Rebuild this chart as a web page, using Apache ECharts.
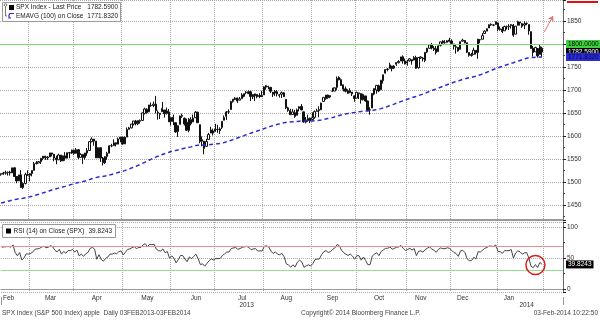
<!DOCTYPE html>
<html>
<head>
<meta charset="utf-8">
<script src="https://cdn.jsdelivr.net/npm/echarts@6/dist/echarts.min.js"></script>
<style>
  html, body { margin: 0; padding: 0; background: #fff; }
  #chart { width: 600px; height: 322px; }
</style>
</head>
<body>
<div id="chart"></div>
<script>
// SPX daily sessions, one array per month: [day, open, high, low, close]
const feb2013 = [
  [11,1517.9,1518.3,1513.6,1517.0],[12,1517.0,1522.3,1515.6,1519.4],[13,1519.4,1524.7,1515.9,1520.3],
  [14,1520.3,1523.1,1514.0,1521.4],[15,1521.4,1524.2,1514.1,1519.8],[19,1519.8,1530.9,1519.8,1530.9],
  [20,1530.9,1530.9,1511.4,1512.0],[21,1512.0,1512.0,1497.3,1502.4],[22,1502.4,1515.6,1502.4,1515.6],
  [25,1515.6,1525.8,1487.9,1487.9],[26,1487.9,1498.9,1485.0,1496.9],[27,1496.9,1520.1,1494.9,1516.0],
  [28,1516.0,1525.3,1514.5,1514.7]
];
const mar2013 = [
  [1,1514.7,1519.0,1501.5,1518.2],[4,1518.2,1525.3,1512.3,1525.2],[5,1525.2,1543.5,1525.2,1539.8],
  [6,1539.8,1545.3,1538.1,1541.5],[7,1541.5,1545.8,1541.5,1544.3],[8,1544.3,1552.5,1539.2,1551.2],
  [11,1551.2,1556.3,1547.4,1556.2],[12,1556.2,1556.8,1548.2,1552.5],[13,1552.5,1556.4,1548.2,1554.5],
  [14,1554.5,1563.3,1554.5,1563.2],[15,1563.2,1563.6,1555.7,1560.7],[18,1560.7,1560.7,1545.1,1552.1],
  [19,1552.1,1557.3,1538.6,1548.3],[20,1548.3,1561.6,1548.3,1558.7],[21,1558.7,1558.7,1543.6,1545.8],
  [22,1545.8,1557.7,1545.8,1556.9],[25,1556.9,1564.9,1546.2,1551.7],[26,1551.7,1563.9,1551.7,1563.8],
  [27,1563.8,1564.1,1551.5,1562.9],[28,1562.9,1570.3,1561.1,1569.2]
];
const apr2013 = [
  [1,1569.2,1570.6,1558.5,1562.2],[2,1562.2,1573.7,1562.2,1570.3],[3,1570.3,1571.5,1549.8,1553.7],
  [4,1553.7,1562.6,1552.5,1560.0],[5,1560.0,1560.0,1539.5,1553.3],[8,1553.3,1563.1,1548.6,1563.1],
  [9,1563.1,1573.9,1557.0,1568.6],[10,1568.6,1589.1,1568.6,1587.7],[11,1587.7,1597.4,1586.2,1593.4],
  [12,1593.3,1593.3,1579.0,1588.9],[15,1588.9,1588.9,1552.3,1552.4],[16,1552.4,1575.4,1552.4,1574.6],
  [17,1574.6,1574.6,1543.7,1552.0],[18,1552.0,1554.4,1536.0,1541.6],[19,1541.6,1555.9,1539.4,1555.3],
  [22,1555.3,1565.6,1548.2,1562.5],[23,1562.5,1579.6,1562.5,1578.8],[24,1578.8,1583.0,1575.8,1578.8],
  [25,1578.8,1592.6,1578.8,1585.2],[26,1585.2,1585.8,1577.6,1582.2],[29,1582.3,1596.7,1582.3,1593.6],
  [30,1593.6,1597.6,1586.5,1597.6]
];
const may2013 = [
  [1,1597.6,1597.6,1581.3,1582.7],[2,1582.8,1598.6,1582.8,1597.6],[3,1597.6,1618.5,1597.6,1614.4],
  [6,1614.4,1619.8,1614.2,1617.5],[7,1617.6,1626.0,1616.6,1626.0],[8,1626.0,1633.0,1622.7,1632.7],
  [9,1632.7,1635.0,1623.1,1626.7],[10,1626.7,1633.7,1623.7,1633.7],[13,1632.1,1636.0,1626.7,1633.8],
  [14,1633.8,1651.1,1633.8,1650.3],[15,1649.1,1661.5,1646.7,1658.8],[16,1658.1,1660.5,1648.6,1650.5],
  [17,1652.5,1667.5,1652.5,1667.5],[20,1665.7,1672.8,1663.5,1666.3],[21,1666.2,1674.9,1662.7,1669.2],
  [22,1669.4,1687.2,1648.9,1655.4],[23,1651.6,1655.5,1635.5,1650.5],[24,1646.7,1649.8,1636.9,1649.6],
  [28,1652.6,1674.2,1652.6,1660.1],[29,1656.6,1656.6,1640.1,1648.4],[30,1649.1,1661.9,1646.7,1654.4],
  [31,1652.1,1658.9,1630.7,1630.7]
];
const jun2013 = [
  [3,1631.7,1640.4,1622.7,1640.4],[4,1640.7,1646.5,1623.6,1631.4],[5,1629.1,1629.3,1607.1,1608.9],
  [6,1609.9,1622.6,1598.2,1622.6],[7,1625.3,1644.4,1625.3,1643.4],[10,1644.7,1648.7,1639.3,1642.8],
  [11,1638.6,1640.1,1622.9,1626.1],[12,1629.9,1637.7,1610.9,1612.5],[13,1612.2,1639.3,1608.1,1636.4],
  [14,1635.5,1640.8,1623.0,1626.7],[17,1630.6,1646.5,1630.3,1639.0],[18,1639.8,1654.2,1639.8,1651.8],
  [19,1651.8,1652.5,1628.9,1628.9],[20,1624.6,1624.6,1584.3,1588.2],[21,1588.6,1599.2,1577.7,1592.4],
  [24,1588.8,1588.8,1560.3,1573.1],[25,1577.5,1593.8,1577.1,1588.0],[26,1592.3,1606.8,1592.3,1603.3],
  [27,1606.4,1620.1,1606.4,1613.2],[28,1611.1,1615.9,1601.1,1606.3]
];
const jul2013 = [
  [1,1609.8,1626.6,1609.8,1615.0],[2,1614.3,1624.3,1606.8,1614.1],[3,1611.5,1618.9,1604.6,1615.4],
  [5,1618.7,1632.1,1615.1,1631.9],[8,1634.2,1644.7,1634.2,1640.5],[9,1642.9,1654.2,1634.7,1652.3],
  [10,1652.3,1657.9,1647.7,1652.6],[11,1657.4,1676.6,1657.4,1675.0],[12,1675.3,1680.2,1672.3,1680.2],
  [15,1679.6,1684.5,1677.9,1682.5],[16,1682.7,1683.7,1671.8,1676.3],[17,1677.9,1684.8,1677.9,1680.9],
  [18,1681.1,1693.1,1681.1,1689.4],[19,1686.2,1692.1,1684.1,1692.1],[22,1694.4,1697.6,1690.7,1695.5],
  [23,1696.1,1698.8,1691.1,1692.4],[24,1696.1,1698.4,1676.0,1685.9],[25,1685.2,1690.9,1680.2,1690.3],
  [26,1687.3,1691.9,1676.0,1691.7],[29,1690.3,1690.9,1681.9,1685.3],[30,1687.9,1693.2,1682.4,1686.0],
  [31,1687.8,1698.4,1684.9,1685.7]
];
const aug2013 = [
  [1,1689.4,1707.9,1689.4,1706.9],[2,1706.1,1709.7,1700.7,1709.7],[5,1708.0,1709.2,1701.6,1707.1],
  [6,1705.8,1705.8,1693.3,1697.4],[7,1695.3,1695.3,1684.9,1690.9],[8,1693.4,1700.2,1687.1,1697.5],
  [9,1696.1,1699.4,1686.0,1691.4],[12,1688.4,1691.5,1683.4,1689.5],[13,1690.7,1696.8,1682.6,1694.2],
  [14,1693.9,1695.5,1684.9,1685.4],[15,1679.6,1679.6,1658.6,1661.3],[16,1661.2,1663.6,1652.6,1655.8],
  [19,1655.3,1659.2,1646.1,1646.1],[20,1646.8,1658.9,1646.8,1652.4],[21,1650.7,1656.9,1639.4,1642.8],
  [22,1645.0,1659.6,1645.0,1657.0],[23,1659.9,1664.9,1653.6,1663.5],[26,1664.3,1669.5,1656.0,1656.8],
  [27,1652.5,1652.5,1629.1,1630.5],[28,1630.3,1641.2,1627.5,1635.0],[29,1633.5,1646.4,1630.9,1638.2],
  [30,1638.9,1640.1,1628.0,1633.0]
];
const sep2013 = [
  [3,1635.9,1651.4,1633.4,1639.8],[4,1640.7,1655.7,1637.4,1653.1],[5,1653.3,1659.2,1653.1,1655.1],
  [6,1657.4,1664.8,1640.6,1655.2],[9,1656.9,1672.4,1656.9,1671.7],[10,1675.1,1684.1,1675.1,1684.0],
  [11,1681.0,1689.1,1678.7,1689.1],[12,1689.2,1689.9,1681.0,1683.4],[13,1685.0,1688.7,1682.2,1688.0],
  [16,1697.7,1704.9,1696.0,1697.6],[17,1697.7,1705.5,1697.7,1704.8],[18,1705.7,1729.4,1700.2,1725.5],
  [19,1727.3,1729.9,1721.0,1722.3],[20,1722.4,1725.2,1708.9,1709.9],[23,1711.4,1711.4,1697.1,1701.8],
  [24,1702.6,1707.6,1694.9,1697.4],[25,1698.0,1701.7,1691.9,1692.8],[26,1694.1,1703.9,1693.1,1698.7],
  [27,1695.5,1695.5,1687.1,1691.8],[30,1687.3,1687.3,1674.4,1681.6]
];
const oct2013 = [
  [1,1682.4,1696.6,1682.1,1695.0],[2,1691.9,1693.9,1680.3,1693.9],[3,1692.4,1692.4,1670.4,1678.7],
  [4,1678.8,1691.9,1677.3,1690.5],[7,1687.2,1687.2,1674.7,1676.1],[8,1676.2,1676.8,1655.0,1655.5],
  [9,1656.9,1662.4,1646.5,1656.4],[10,1660.9,1692.6,1660.9,1692.6],[11,1691.1,1703.4,1688.5,1703.2],
  [14,1699.9,1711.0,1692.1,1710.1],[15,1709.2,1711.6,1695.5,1698.1],[16,1700.5,1721.8,1700.5,1721.5],
  [17,1720.2,1733.4,1714.1,1733.2],[18,1736.7,1745.3,1735.7,1744.5],[21,1745.2,1747.8,1740.7,1744.7],
  [22,1746.5,1759.3,1746.5,1754.7],[23,1752.3,1752.3,1740.5,1746.4],[24,1747.5,1753.7,1745.5,1752.1],
  [25,1756.0,1759.8,1752.5,1759.8],[28,1759.4,1764.9,1757.7,1762.1],[29,1762.9,1772.1,1762.9,1772.0],
  [30,1772.3,1775.2,1757.2,1763.3],[31,1763.2,1768.5,1755.7,1756.5]
];
const nov2013 = [
  [1,1758.7,1765.7,1752.9,1761.6],[4,1763.4,1768.8,1761.6,1767.9],[5,1766.0,1766.0,1755.0,1763.0],
  [6,1765.2,1773.7,1764.4,1770.5],[7,1770.7,1774.5,1746.2,1747.2],[8,1748.4,1770.8,1746.2,1770.6],
  [11,1769.6,1773.4,1767.8,1771.9],[12,1769.3,1771.8,1762.3,1767.7],[13,1764.4,1782.0,1760.6,1782.0],
  [14,1782.8,1791.5,1780.2,1790.6],[15,1790.7,1798.2,1790.7,1798.2],[18,1798.8,1802.3,1788.4,1791.5],
  [19,1790.8,1795.5,1784.7,1787.9],[20,1789.6,1795.7,1777.2,1781.4],[21,1783.5,1797.2,1783.5,1795.9],
  [22,1797.2,1804.8,1794.7,1804.8],[25,1806.3,1808.1,1800.6,1802.5],[26,1802.9,1808.4,1800.8,1802.8],
  [27,1803.5,1808.3,1802.8,1807.2],[29,1808.7,1813.6,1803.9,1805.8]
];
const dec2013 = [
  [2,1806.6,1810.0,1798.6,1800.9],[3,1800.1,1800.1,1787.9,1795.2],[4,1794.1,1799.8,1779.1,1792.8],
  [5,1792.8,1792.8,1783.4,1785.0],[6,1788.4,1806.0,1788.4,1805.1],[9,1806.2,1811.5,1806.2,1808.4],
  [10,1807.6,1808.5,1801.4,1802.6],[11,1802.8,1802.9,1780.1,1782.2],[12,1781.7,1782.0,1772.3,1775.5],
  [13,1777.0,1780.9,1772.5,1775.3],[16,1777.5,1792.2,1777.5,1786.5],[17,1786.5,1786.8,1777.2,1781.0],
  [18,1781.5,1811.1,1767.9,1810.7],[19,1809.0,1810.9,1801.7,1809.6],[20,1810.4,1823.8,1810.4,1818.3],
  [23,1822.9,1829.8,1822.9,1828.0],[24,1828.0,1833.3,1828.0,1833.3],[26,1834.9,1842.8,1834.9,1842.0],
  [27,1842.9,1844.9,1839.8,1841.4],[30,1841.5,1842.5,1838.8,1841.1],[31,1842.6,1849.4,1842.4,1848.4]
];
const jan2014 = [
  [2,1845.9,1846.0,1827.7,1832.0],[3,1833.2,1838.2,1829.1,1831.4],[6,1832.3,1837.2,1823.7,1826.8],
  [7,1828.7,1840.1,1828.7,1837.9],[8,1837.9,1840.0,1831.4,1837.5],[9,1839.0,1843.2,1830.4,1838.1],
  [10,1840.1,1843.2,1833.5,1842.4],[13,1841.3,1843.5,1815.5,1819.2],[14,1821.4,1839.3,1821.4,1838.9],
  [15,1840.5,1850.8,1840.5,1848.4],[16,1847.9,1847.9,1840.3,1845.9],[17,1844.2,1846.0,1835.2,1838.7],
  [21,1841.1,1849.3,1832.4,1843.8],[22,1844.7,1846.9,1840.9,1844.9],[23,1842.3,1842.3,1820.1,1828.5],
  [24,1826.9,1826.9,1790.3,1790.3],[27,1791.0,1795.9,1772.9,1781.6],[28,1783.0,1793.9,1783.0,1792.5],
  [29,1790.2,1790.2,1770.5,1774.2],[30,1777.2,1798.8,1777.2,1794.2],[31,1790.9,1793.9,1772.3,1782.59]
];

// Sessions after the last bar that keep the right-hand margin of the time axis
const futureSessions = ['2014-02-03','2014-02-04','2014-02-05','2014-02-06','2014-02-07',
                        '2014-02-10','2014-02-11','2014-02-12','2014-02-13'];

// EMAVG (100) on close, one value per session
const ema100 = [
  1454.3,1455.6,1456.9,1458.2,1459.4,1460.8,1461.8,1462.6,1463.7,1464.2,1464.8,1465.8,1466.8,
  1467.8,1469.0,1470.4,1471.8,1473.2,1474.8,1476.4,1477.9,1479.4,1481.1,1482.6,1484.0,1485.3,1486.7,1487.9,1489.3,1490.5,1491.9,1493.3,1494.8,
  1496.2,1497.6,1498.7,1500.0,1501.0,1502.2,1503.6,1505.2,1507.0,1508.6,1509.5,1510.8,1511.6,1512.2,1513.0,1514.0,1515.3,1516.5,1517.9,1519.2,1520.6,1522.2,
  1523.4,1524.8,1526.6,1528.4,1530.3,1532.4,1534.2,1536.2,1538.1,1540.4,1542.7,1544.8,1547.3,1549.6,1552.0,1554.0,1555.9,1557.8,1559.8,1561.6,1563.4,1564.7,
  1566.2,1567.5,1568.3,1569.4,1570.9,1572.3,1573.4,1574.1,1575.4,1576.4,1577.6,1579.1,1580.1,1580.2,1580.5,1580.3,1580.5,1580.9,1581.6,1582.0,
  1582.7,1583.3,1583.9,1584.9,1586.0,1587.3,1588.6,1590.3,1592.1,1593.9,1595.5,1597.2,1599.0,1600.8,1602.7,1604.5,1606.1,1607.8,1609.4,1610.9,1612.4,1613.9,
  1615.7,1617.6,1619.4,1620.9,1622.3,1623.8,1625.1,1626.4,1627.7,1628.9,1629.5,1630.0,1630.4,1630.8,1631.0,1631.5,1632.2,1632.7,1632.6,1632.7,1632.8,1632.8,
  1632.9,1633.3,1633.8,1634.2,1634.9,1635.9,1636.9,1637.9,1638.8,1640.0,1641.3,1642.9,1644.5,1645.8,1646.9,1647.9,1648.8,1649.8,1650.6,1651.2,
  1652.1,1652.9,1653.4,1654.2,1654.6,1654.6,1654.7,1655.4,1656.4,1657.4,1658.2,1659.5,1660.9,1662.6,1664.2,1666.0,1667.6,1669.3,1671.1,1672.9,1674.8,1676.6,1678.2,
  1679.8,1681.6,1683.2,1684.9,1686.1,1687.8,1689.5,1691.0,1692.8,1694.8,1696.8,1698.7,1700.4,1702.0,1703.9,1705.9,1707.8,1709.7,1711.6,1713.5,
  1715.2,1716.8,1718.3,1719.6,1721.3,1723.0,1724.6,1725.7,1726.7,1727.7,1728.8,1729.9,1731.5,1733.0,1734.7,1736.6,1738.5,1740.5,1742.5,1744.5,1746.5,
  1748.2,1749.9,1751.4,1753.1,1754.8,1756.4,1758.1,1759.3,1760.9,1762.6,1764.3,1765.8,1767.3,1768.9,1770.0,1770.4,1770.7,1771.1,1771.2,1771.6,1771.832
];

// RSI (14) on close, one value per session
const rsi14 = [
  67.6,68.4,68.6,69.0,67.8,71.5,59.0,53.8,59.1,46.9,50.5,57.1,56.5,
  57.7,60.1,64.5,65.0,65.8,67.8,69.3,66.9,67.6,70.3,68.5,62.7,60.2,64.3,56.5,60.9,58.0,62.5,62.0,64.3,
  59.9,63.0,53.8,56.4,53.0,57.1,59.3,65.7,67.4,64.7,48.1,55.6,48.0,45.0,49.5,51.7,56.5,56.5,58.3,57.1,60.5,61.7,
  55.2,59.7,64.2,64.9,67.0,68.6,65.5,67.3,67.4,71.5,73.3,68.6,72.5,71.8,72.5,64.7,62.1,61.6,65.0,58.7,60.8,50.0,
  53.7,50.0,42.3,47.6,54.4,54.2,48.4,44.2,52.0,49.0,52.8,56.3,49.2,39.5,40.8,36.9,41.6,45.9,48.6,46.9,
  49.4,49.1,49.5,54.5,56.9,60.0,60.0,65.5,66.6,67.2,64.3,65.5,67.6,68.3,69.1,67.3,63.6,65.0,65.5,61.5,61.7,61.5,
  69.2,70.1,68.2,61.5,57.5,60.3,56.6,55.4,57.7,52.2,40.8,38.8,35.3,39.1,35.7,43.5,46.7,44.0,35.2,37.5,39.1,37.4,
  41.1,47.6,48.5,48.6,55.9,60.5,62.2,59.1,60.8,64.2,66.5,72.1,70.2,63.0,58.8,56.6,54.3,56.7,53.2,48.3,
  54.2,53.7,46.7,51.9,46.0,39.2,39.6,53.6,56.7,58.7,54.1,60.6,63.4,65.9,66.0,68.2,64.4,65.8,67.7,68.2,70.6,66.0,62.5,
  64.1,65.9,63.2,65.5,54.1,61.4,61.7,59.8,64.0,66.2,68.2,64.7,62.8,59.5,64.1,66.6,65.3,65.4,66.8,65.9,
  62.7,59.1,57.6,52.9,61.6,62.8,59.2,48.8,45.9,45.9,51.4,48.7,60.5,59.9,62.8,65.8,67.3,69.7,69.3,69.1,71.3,
  60.9,60.5,57.8,62.2,62.0,62.2,64.0,50.1,58.4,61.7,60.3,56.5,58.5,59.0,50.3,36.8,34.6,39.6,34.8,43.0,39.8243
];

// Reference levels
const priceLevel = 1800;
const rsiOverbought = 70;
const rsiOversold = 30;

// Time-axis labels: month name under the session it is centred on, year underneath
const monthLabelDates = ['2013-02-14','2013-03-14','2013-04-15','2013-05-16','2013-06-18','2013-07-18',
                         '2013-08-15','2013-09-16','2013-10-15','2013-11-11','2013-12-09','2014-01-09'];
const monthLabels = ['Feb','Mar','Apr','May','Jun','Jul','Aug','Sep','Oct','Nov','Dec','Jan'];
const yearLabelDates = ['2013-07-22','2014-01-22'];
const yearLabels = ['2013','2014'];

// ---------------------------------------------------------------------------
const pad2 = n => String(n).padStart(2, '0');
const monthBlocks = [
  [2013, 2, feb2013], [2013, 3, mar2013], [2013, 4, apr2013], [2013, 5, may2013],
  [2013, 6, jun2013], [2013, 7, jul2013], [2013, 8, aug2013], [2013, 9, sep2013],
  [2013, 10, oct2013], [2013, 11, nov2013], [2013, 12, dec2013], [2014, 1, jan2014]
];
const sessions = [];
const candles = [];   // ECharts order: [open, close, low, high]
for (const [yr, mo, rows] of monthBlocks) {
  for (const [d, o, h, l, c] of rows) {
    sessions.push(`${yr}-${pad2(mo)}-${pad2(d)}`);
    candles.push([o, c, l, h]);
  }
}
const categories = sessions.concat(futureSessions);
const lastClose = candles[candles.length - 1][1];
const lastEma = ema100[ema100.length - 1];
const lastRsi = rsi14[rsi14.length - 1];

const isMonthStart = i => i > 0 && categories[i].slice(0, 7) !== categories[i - 1].slice(0, 7);
const isYearStart = i => i > 0 && categories[i].slice(0, 4) !== categories[i - 1].slice(0, 4);
const monthLabelMap = Object.fromEntries(monthLabelDates.map((d, k) => [d, monthLabels[k]]));
const yearLabelMap = Object.fromEntries(yearLabelDates.map((d, k) => [d, yearLabels[k]]));

const FONT = 'Liberation Sans';
const TXT = '#333';
const gridDots = { color: '#a8a8a8', type: [1, 1], width: 1 };
const hiddenLine = { color: 'rgba(0,0,0,0)', width: 0 };

// value tag sitting on the price scale, next to the level it reports
const tag = (text, bg, fg) => ({
  show: true, position: 'end', distance: 3, formatter: text,
  color: fg, backgroundColor: bg, padding: [1, 2, 0, 2],
  fontSize: 6.5, fontFamily: FONT, lineHeight: 7, opacity: 1
});

const chart = echarts.init(document.getElementById('chart'), null, { renderer: 'canvas' });

chart.setOption({
  animation: false,
  backgroundColor: '#fff',
  grid: [
    { left: 0, right: 37, top: 0, bottom: 102 },
    { left: 0, right: 37, top: 222, bottom: 30 }
  ],
  xAxis: [
    {
      type: 'category', gridIndex: 0, data: categories, boundaryGap: true,
      axisLine: { show: true, lineStyle: { color: '#9a9a9a', width: 2 } },
      axisTick: { show: false }, axisLabel: { show: false },
      splitLine: { show: true, interval: isMonthStart, lineStyle: gridDots }
    },
    {
      type: 'category', gridIndex: 1, data: categories, boundaryGap: true,
      axisLine: { show: true, lineStyle: { color: '#9a9a9a', width: 1 } },
      axisTick: { show: false },
      axisLabel: {
        interval: (i, v) => v in monthLabelMap, formatter: v => monthLabelMap[v] || '',
        fontSize: 6.5, fontFamily: FONT, color: TXT, margin: 3
      },
      splitLine: { show: true, interval: isMonthStart, lineStyle: gridDots }
    },
    {
      type: 'category', gridIndex: 1, data: categories, boundaryGap: true, position: 'bottom', offset: 5,
      axisLine: { show: false },
      axisTick: { show: true, interval: isYearStart, length: 8, lineStyle: { color: '#999' } },
      axisLabel: {
        interval: (i, v) => v in yearLabelMap, formatter: v => yearLabelMap[v] || '',
        fontSize: 6.5, fontFamily: FONT, color: TXT, margin: 5
      },
      splitLine: { show: false }
    }
  ],
  yAxis: [
    {
      type: 'value', gridIndex: 0, position: 'right', min: 1417.4, max: 1895.7, splitNumber: 10,
      axisLine: { show: true, lineStyle: { color: '#666' } },
      axisTick: { show: true, length: 3, lineStyle: { color: '#222' } },
      minorTick: { show: true, splitNumber: 2, length: 2, lineStyle: { color: '#444' } },
      axisLabel: {
        showMinLabel: false, showMaxLabel: false, formatter: v => String(v),
        fontSize: 6.5, fontFamily: FONT, color: TXT, margin: 4
      },
      splitLine: { show: true, lineStyle: gridDots }
    },
    {
      type: 'value', gridIndex: 1, position: 'right', min: -4.9, max: 108.6, splitNumber: 2,
      axisLine: { show: true, lineStyle: { color: '#666' } },
      axisTick: { show: true, length: 3, lineStyle: { color: '#222' } },
      minorTick: { show: true, splitNumber: 2, length: 2, lineStyle: { color: '#444' } },
      axisLabel: {
        showMinLabel: false, showMaxLabel: false, formatter: v => String(v),
        fontSize: 6.5, fontFamily: FONT, color: TXT, margin: 4
      },
      splitLine: { show: true, lineStyle: gridDots }
    }
  ],
  series: [
    {
      name: 'SPX Index', type: 'candlestick', xAxisIndex: 0, yAxisIndex: 0,
      data: candles, barWidth: 1.8, clip: false,
      itemStyle: { color: '#ffffff', color0: '#111', borderColor: '#111', borderColor0: '#111', borderWidth: 1 },
      markLine: {
        silent: true, symbol: 'none', animation: false,
        data: [
          { yAxis: priceLevel, lineStyle: { color: '#7ad96a', width: 1, type: 'solid' },
            label: tag(priceLevel.toFixed(4), '#3fd03f', '#000') },
          [
            { coord: ['2014-02-03', 1826], symbol: 'none' },
            { coord: ['2014-02-07', 1861], symbol: 'arrow', symbolSize: 5,
              lineStyle: { color: '#e37272', width: 1, type: 'solid' }, label: { show: false } }
          ]
        ]
      },
      z: 3
    },
    {
      // carries the last-price tag so it sits above the EMAVG tag
      name: 'Last Price', type: 'line', xAxisIndex: 0, yAxisIndex: 0, data: [],
      markLine: {
        silent: true, symbol: 'none', animation: false,
        data: [{ yAxis: lastClose, lineStyle: hiddenLine, label: tag(lastClose.toFixed(4), '#000', '#fff') }]
      },
      z: 6
    },
    {
      name: 'EMAVG', type: 'line', xAxisIndex: 0, yAxisIndex: 0, data: ema100,
      showSymbol: false, symbol: 'none', smooth: false,
      lineStyle: { color: '#2b2bd0', width: 1.5, type: [4, 3] },
      markLine: {
        silent: true, symbol: 'none', animation: false,
        data: [{ yAxis: lastEma, lineStyle: hiddenLine, label: tag(lastEma.toFixed(4), '#2a2ad6', '#0a0a40') }]
      },
      z: 4
    },
    {
      name: 'RSI', type: 'line', xAxisIndex: 1, yAxisIndex: 1, data: rsi14,
      showSymbol: false, symbol: 'none',
      lineStyle: { color: '#444', width: 1 },
      markLine: {
        silent: true, symbol: 'none', animation: false,
        data: [
          { yAxis: rsiOverbought, lineStyle: { color: '#e29090', width: 1, type: 'solid' }, label: { show: false } },
          { yAxis: rsiOversold, lineStyle: { color: '#8fe08f', width: 1, type: 'solid' }, label: { show: false } },
          { yAxis: lastRsi, lineStyle: hiddenLine, label: tag(lastRsi.toFixed(4), '#000', '#fff') }
        ]
      },
      markPoint: {
        silent: true, animation: false, symbol: 'circle', symbolSize: 19,
        itemStyle: { color: 'rgba(0,0,0,0)', borderColor: '#d81f1f', borderWidth: 1.5 },
        label: { show: false },
        data: [{ coord: ['2014-01-28', 38.9] }]
      }
    }
  ]
});

// Legend boxes, header marker and footer text
const legendFont = `6.5px "${FONT}"`;
const txt = (x, y, text, align, extra) => ({
  type: 'text', x, y, silent: true,
  style: Object.assign({ text, font: legendFont, fill: '#222', align: align || 'left', verticalAlign: 'middle' }, extra || {})
});
chart.setOption({
  graphic: [
    // price panel legend
    { type: 'rect', shape: { x: 2.5, y: 2.5, width: 118, height: 19 }, style: { fill: '#fff', stroke: '#9a9a9a', lineWidth: 1 }, z: 50 },
    { type: 'circle', shape: { cx: 5.5, cy: 5, r: 1.3 }, style: { fill: 'none', stroke: '#555', lineWidth: 0.8 }, z: 51 },
    { type: 'polyline', shape: { points: [[5.5, 6.5], [5.5, 16], [7, 16]] }, style: { stroke: '#555', lineWidth: 0.8, fill: 'none' }, z: 51 },
    { type: 'rect', shape: { x: 9, y: 5, width: 5, height: 5 }, style: { fill: '#000' }, z: 51 },
    { type: 'polyline', shape: { points: [[14, 13.5], [10, 13.5], [9, 15], [9, 18], [11, 18]] }, style: { stroke: '#2b2bd0', lineWidth: 1.2, fill: 'none' }, z: 51 },
    Object.assign(txt(16, 7.5, 'SPX Index - Last Price'), { z: 51 }),
    Object.assign(txt(118, 7.5, lastClose.toFixed(4), 'right'), { z: 51 }),
    Object.assign(txt(16, 16, 'EMAVG (100) on Close'), { z: 51 }),
    Object.assign(txt(118, 16, lastEma.toFixed(4), 'right'), { z: 51 }),
    // RSI panel legend
    { type: 'rect', shape: { x: 2.5, y: 224.5, width: 113, height: 13 }, style: { fill: '#fff', stroke: '#9a9a9a', lineWidth: 1 }, z: 50 },
    { type: 'rect', shape: { x: 6, y: 228.5, width: 5, height: 5 }, style: { fill: '#000' }, z: 51 },
    Object.assign(txt(13.5, 231, 'RSI (14) on Close (SPX)'), { z: 51 }),
    Object.assign(txt(112, 231, lastRsi.toFixed(4), 'right'), { z: 51 }),
    // marker on the right edge of the price scale
    { type: 'rect', shape: { x: 567, y: 1, width: 31, height: 2 }, style: { fill: '#e01010' }, z: 40 },
    // footer
    txt(2, 313.5, 'SPX Index (S&P 500 Index) apple  Daily 03FEB2013-03FEB2014', 'left', { fill: '#444' }),
    txt(301, 313.5, 'Copyright\u00a9 2014 Bloomberg Finance L.P.', 'left', { fill: '#444' }),
    txt(598, 313.5, '03-Feb-2014 10:22:50', 'right', { fill: '#444' })
  ]
});
</script>
</body>
</html>
